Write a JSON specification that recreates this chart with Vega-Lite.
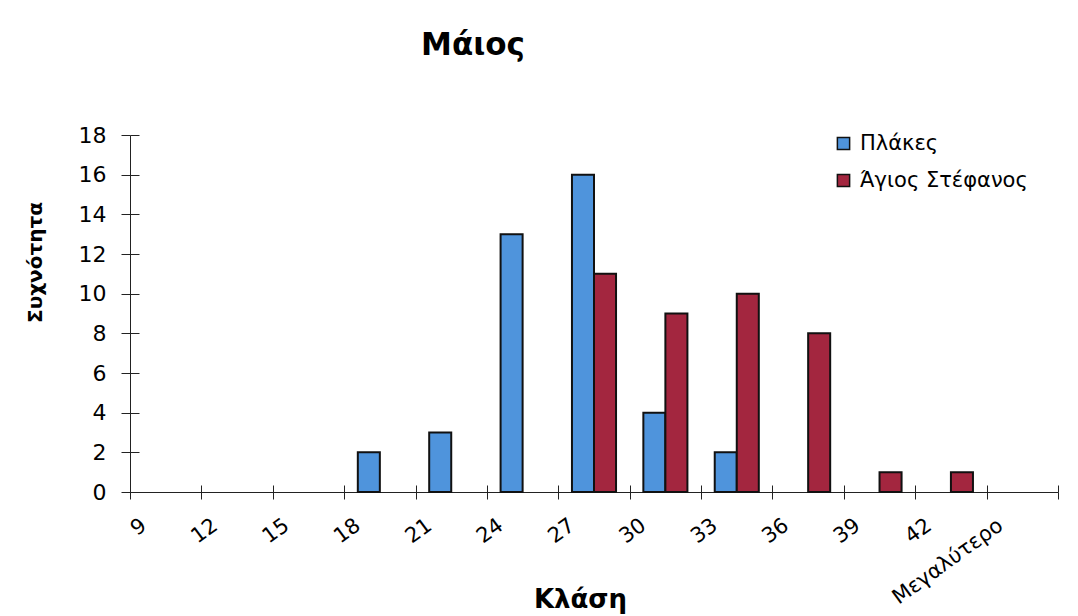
{
  "$schema": "https://vega.github.io/schema/vega-lite/v6.json",
  "width": 928,
  "height": 357,
  "autosize": {"type": "none"},
  "padding": {"left": 130, "top": 135, "right": 20, "bottom": 124},
  "background": "white",
  "config": {
    "view": {"stroke": null},
    "font": "DejaVu Sans",
    "axis": {"grid": false, "domainColor": "#222", "tickColor": "#222", "labelColor": "#000", "titleColor": "#000", "domainWidth": 1, "tickWidth": 1}
  },
  "title": {
    "text": "Μάιος",
    "fontSize": 31,
    "fontWeight": "bold",
    "font": "DejaVu Sans",
    "color": "#000",
    "anchor": "middle",
    "frame": "group",
    "baseline": "alphabetic",
    "offset": -129,
    "dx": -121
  },
  "data": {
    "values": [
      {"klasi": "18", "series": "Πλάκες", "count": 2},
      {"klasi": "21", "series": "Πλάκες", "count": 3},
      {"klasi": "24", "series": "Πλάκες", "count": 13},
      {"klasi": "27", "series": "Πλάκες", "count": 16},
      {"klasi": "30", "series": "Πλάκες", "count": 4},
      {"klasi": "33", "series": "Πλάκες", "count": 2},
      {"klasi": "27", "series": "Άγιος Στέφανος", "count": 11},
      {"klasi": "30", "series": "Άγιος Στέφανος", "count": 9},
      {"klasi": "33", "series": "Άγιος Στέφανος", "count": 10},
      {"klasi": "36", "series": "Άγιος Στέφανος", "count": 8},
      {"klasi": "39", "series": "Άγιος Στέφανος", "count": 1},
      {"klasi": "42", "series": "Άγιος Στέφανος", "count": 1}
    ]
  },
  "layer": [
    {
      "mark": {"type": "bar", "stroke": "#111", "strokeWidth": 2},
      "encoding": {
        "x": {
          "field": "klasi", "type": "nominal", "sort": null,
          "scale": {"type": "band", "domain": ["9", "12", "15", "18", "21", "24", "27", "30", "33", "36", "39", "42", "Μεγαλύτερο"], "paddingInner": 0, "paddingOuter": 0},
          "axis": {
            "orient": "bottom",
            "title": "Κλάση", "titleFontSize": 26, "titleFontWeight": "bold", "titleX": 450, "titleY": 115, "titleAlign": "center", "titleBaseline": "alphabetic",
            "labelAngle": -36, "labelAlign": "right", "labelBaseline": "middle", "labelFontSize": 21,
            "labelPadding": 24, "labelOffset": -22, "labelOverlap": false, "labelBound": false, "labelFlush": false,
            "tickSize": 7, "tickBand": "extent"
          }
        },
        "xOffset": {"field": "series", "type": "nominal", "scale": {"type": "band", "domain": ["Πλάκες", "Άγιος Στέφανος"], "paddingInner": 0, "paddingOuter": 0.62}},
        "y": {
          "field": "count", "type": "quantitative",
          "scale": {"domain": [0, 18], "nice": false},
          "axis": {
            "orient": "left",
            "values": [0, 2, 4, 6, 8, 10, 12, 14, 16, 18],
            "title": "Συχνότητα", "titleFontSize": 20, "titleFontWeight": "bold", "titleAngle": -90, "titleX": -95, "titleY": 127, "titleAlign": "center", "titleBaseline": "middle",
            "labelFontSize": 22, "labelPadding": 15, "tickSize": 9
          }
        },
        "color": {
          "field": "series", "type": "nominal",
          "scale": {"domain": ["Πλάκες", "Άγιος Στέφανος"], "range": ["#4f94dc", "#a3263f"]},
          "legend": {
            "orient": "none", "legendX": 703, "legendY": -2, "title": null,
            "symbolType": "square", "symbolSize": 150, "symbolStrokeColor": "#111", "symbolStrokeWidth": 1.5, "symbolOpacity": 1,
            "labelFontSize": 21, "labelColor": "#000", "labelOffset": 6, "labelLimit": 0, "rowPadding": 15
          }
        }
      }
    },
    {
      "mark": {"type": "bar", "opacity": 0},
      "encoding": {
        "x": {
          "field": "klasi", "type": "nominal", "sort": null,
          "scale": {"type": "band", "domain": ["9", "12", "15", "18", "21", "24", "27", "30", "33", "36", "39", "42", "Μεγαλύτερο"], "paddingInner": 0, "paddingOuter": 0},
          "axis": {"orient": "bottom", "labels": false, "title": null, "domain": false, "tickSize": -7, "tickBand": "extent"}
        },
        "y": {
          "field": "count", "type": "quantitative",
          "scale": {"domain": [0, 18], "nice": false},
          "axis": {"orient": "left", "labels": false, "title": null, "domain": false, "tickSize": -9, "values": [0, 2, 4, 6, 8, 10, 12, 14, 16, 18]}
        }
      }
    }
  ],
  "resolve": {"axis": {"x": "independent", "y": "independent"}}
}
